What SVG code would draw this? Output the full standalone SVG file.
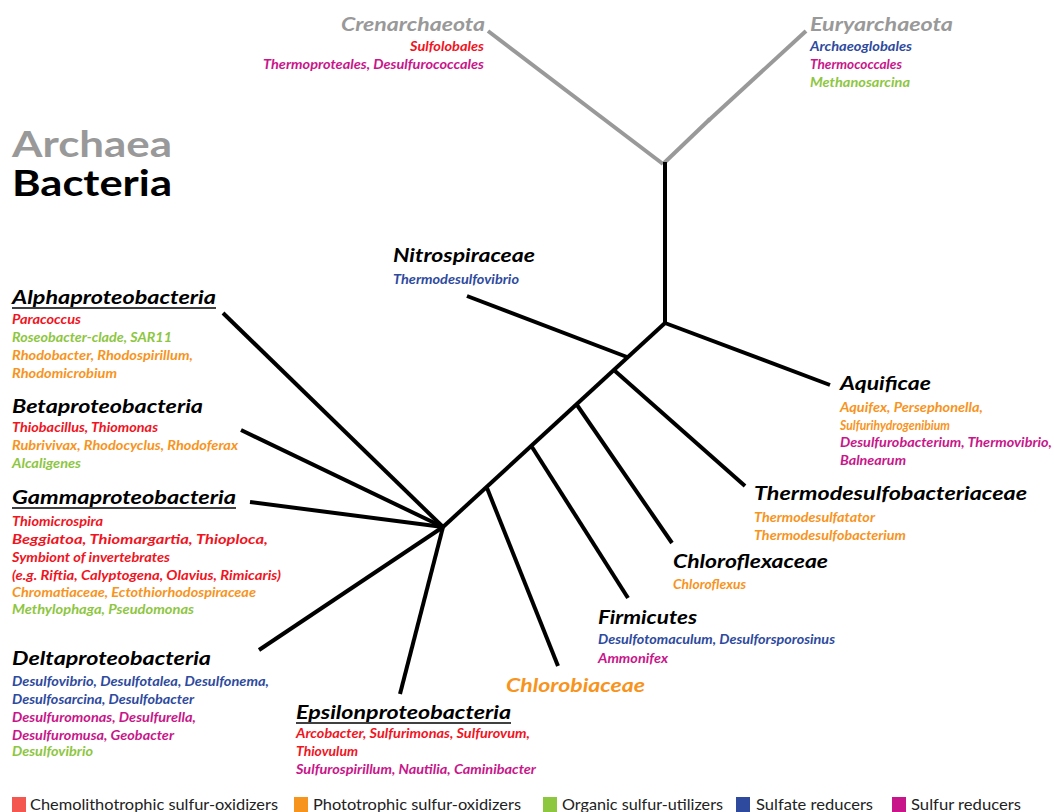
<svg xmlns="http://www.w3.org/2000/svg" width="1054" height="812" viewBox="0 0 1054 812">
<style>
text{font-family:Lato,"Open Sans","Liberation Sans",sans-serif;font-weight:bold;font-style:italic}
.h{font-size:19px;fill:#000}
.ha{font-size:19px;fill:#999}
.s{font-size:13px}
.r{fill:#f0141e}.o{fill:#f7941d}.g{fill:#8dc63f}.b{fill:#2e4a9e}.m{fill:#c8168a}
.big{font-style:normal;font-size:36px}
.lg{font-style:normal;font-weight:normal;font-size:16px;fill:#222}
.e{text-anchor:end}
.u{stroke:#000;stroke-width:1.6}
#connectors line{stroke:#000;stroke-width:4;stroke-linecap:butt}
#connectors .a{stroke:#999}
</style>
<rect width="1054" height="812" fill="#fff"/>
<g id="connectors">
<line class="a" x1="488" y1="31" x2="663" y2="164"/>
<line class="a" x1="663" y1="164" x2="710" y2="119"/>
<line class="a" x1="708" y1="121" x2="806" y2="31"/>
<line x1="665" y1="162" x2="665" y2="325"/>
<line x1="665" y1="323" x2="830" y2="385"/>
<line x1="665" y1="323" x2="443" y2="527"/>
<line x1="627" y1="357" x2="467" y2="296"/>
<line x1="615" y1="371" x2="745" y2="486"/>
<line x1="577" y1="405" x2="672" y2="543"/>
<line x1="532" y1="447" x2="628" y2="598"/>
<line x1="487" y1="488" x2="558" y2="666"/>
<line x1="443" y1="527" x2="223" y2="313"/>
<line x1="443" y1="527" x2="241" y2="430"/>
<line x1="443" y1="527" x2="250" y2="502"/>
<line x1="443" y1="527" x2="259" y2="650"/>
<line x1="443" y1="527" x2="400" y2="694"/>
</g>
<g id="domains">
<text class="big" x="12" y="157" fill="#999" textLength="160" lengthAdjust="spacingAndGlyphs">Archaea</text>
<text class="big" x="12" y="196" fill="#000" textLength="160" lengthAdjust="spacingAndGlyphs">Bacteria</text>
</g>
<g id="crenarchaeota">
<text class="ha e" x="485" y="31" textLength="144" lengthAdjust="spacingAndGlyphs">Crenarchaeota</text>
<text class="s r e" x="484" y="51" textLength="74" lengthAdjust="spacingAndGlyphs">Sulfolobales</text>
<text class="s m e" x="484" y="69" textLength="221" lengthAdjust="spacingAndGlyphs">Thermoproteales, Desulfurococcales</text>
</g>
<g id="euryarchaeota">
<text class="ha" x="810" y="31" textLength="143" lengthAdjust="spacingAndGlyphs">Euryarchaeota</text>
<text class="s b" x="810" y="51" textLength="102" lengthAdjust="spacingAndGlyphs">Archaeoglobales</text>
<text class="s m" x="810" y="69" textLength="92" lengthAdjust="spacingAndGlyphs">Thermococcales</text>
<text class="s g" x="810" y="87" textLength="100" lengthAdjust="spacingAndGlyphs">Methanosarcina</text>
</g>
<g id="nitrospiraceae">
<text class="h" x="393" y="262" textLength="142" lengthAdjust="spacingAndGlyphs">Nitrospiraceae</text>
<text class="s b" x="393" y="284" textLength="126" lengthAdjust="spacingAndGlyphs">Thermodesulfovibrio</text>
</g>
<g id="alphaproteobacteria">
<text class="h" x="12" y="304" textLength="204" lengthAdjust="spacingAndGlyphs">Alphaproteobacteria</text>
<line class="u" x1="12" y1="308" x2="216" y2="308"/>
<text class="s r" x="12" y="324" textLength="69" lengthAdjust="spacingAndGlyphs">Paracoccus</text>
<text class="s g" x="12" y="342" textLength="160" lengthAdjust="spacingAndGlyphs">Roseobacter-clade, SAR11</text>
<text class="s o" x="12" y="360" textLength="181" lengthAdjust="spacingAndGlyphs">Rhodobacter, Rhodospirillum,</text>
<text class="s o" x="12" y="378" textLength="105" lengthAdjust="spacingAndGlyphs">Rhodomicrobium</text>
</g>
<g id="betaproteobacteria">
<text class="h" x="12" y="413" textLength="191" lengthAdjust="spacingAndGlyphs">Betaproteobacteria</text>
<text class="s r" x="12" y="432" textLength="146" lengthAdjust="spacingAndGlyphs">Thiobacillus, Thiomonas</text>
<text class="s o" x="12" y="450" textLength="226" lengthAdjust="spacingAndGlyphs">Rubrivivax, Rhodocyclus, Rhodoferax</text>
<text class="s g" x="12" y="468" textLength="69" lengthAdjust="spacingAndGlyphs">Alcaligenes</text>
</g>
<g id="gammaproteobacteria">
<text class="h" x="12" y="504" textLength="224" lengthAdjust="spacingAndGlyphs">Gammaproteobacteria</text>
<line class="u" x1="12" y1="508" x2="236" y2="508"/>
<text class="s r" x="12" y="526" textLength="91" lengthAdjust="spacingAndGlyphs">Thiomicrospira</text>
<text class="s r" x="12" y="544" textLength="256" lengthAdjust="spacingAndGlyphs">Beggiatoa, Thiomargartia, Thioploca,</text>
<text class="s r" x="12" y="562" textLength="158" lengthAdjust="spacingAndGlyphs">Symbiont of invertebrates</text>
<text class="s r" x="12" y="580" textLength="269" lengthAdjust="spacingAndGlyphs">(e.g. Riftia, Calyptogena, Olavius, Rimicaris)</text>
<text class="s o" x="12" y="597" textLength="244" lengthAdjust="spacingAndGlyphs">Chromatiaceae, Ectothiorhodospiraceae</text>
<text class="s g" x="12" y="614" textLength="182" lengthAdjust="spacingAndGlyphs">Methylophaga, Pseudomonas</text>
</g>
<g id="deltaproteobacteria">
<text class="h" x="12" y="665" textLength="199" lengthAdjust="spacingAndGlyphs">Deltaproteobacteria</text>
<text class="s b" x="12" y="686" textLength="257" lengthAdjust="spacingAndGlyphs">Desulfovibrio, Desulfotalea, Desulfonema,</text>
<text class="s b" x="12" y="704" textLength="182" lengthAdjust="spacingAndGlyphs">Desulfosarcina, Desulfobacter</text>
<text class="s m" x="12" y="722" textLength="184" lengthAdjust="spacingAndGlyphs">Desulfuromonas, Desulfurella,</text>
<text class="s m" x="12" y="740" textLength="162" lengthAdjust="spacingAndGlyphs">Desulfuromusa, Geobacter</text>
<text class="s g" x="12" y="756" textLength="81" lengthAdjust="spacingAndGlyphs">Desulfovibrio</text>
</g>
<g id="epsilonproteobacteria">
<text class="h" x="296" y="719" textLength="215" lengthAdjust="spacingAndGlyphs">Epsilonproteobacteria</text>
<line class="u" x1="296" y1="723" x2="511" y2="723"/>
<text class="s r" x="296" y="738" textLength="234" lengthAdjust="spacingAndGlyphs">Arcobacter, Sulfurimonas, Sulfurovum,</text>
<text class="s r" x="296" y="756" textLength="62" lengthAdjust="spacingAndGlyphs">Thiovulum</text>
<text class="s m" x="296" y="774" textLength="240" lengthAdjust="spacingAndGlyphs">Sulfurospirillum, Nautilia, Caminibacter</text>
</g>
<g id="chlorobiaceae">
<text class="h" x="506" y="692" style="fill:#f7941d" textLength="139" lengthAdjust="spacingAndGlyphs">Chlorobiaceae</text>
</g>
<g id="firmicutes">
<text class="h" x="598" y="624" textLength="99" lengthAdjust="spacingAndGlyphs">Firmicutes</text>
<text class="s b" x="598" y="644" textLength="237" lengthAdjust="spacingAndGlyphs">Desulfotomaculum, Desulforsporosinus</text>
<text class="s m" x="598" y="663" textLength="70" lengthAdjust="spacingAndGlyphs">Ammonifex</text>
</g>
<g id="chloroflexaceae">
<text class="h" x="673" y="568" textLength="155" lengthAdjust="spacingAndGlyphs">Chloroflexaceae</text>
<text class="s o" x="673" y="589" textLength="73" lengthAdjust="spacingAndGlyphs">Chloroflexus</text>
</g>
<g id="thermodesulfobacteriaceae">
<text class="h" x="754" y="500" textLength="273" lengthAdjust="spacingAndGlyphs">Thermodesulfobacteriaceae</text>
<text class="s o" x="754" y="522" textLength="121" lengthAdjust="spacingAndGlyphs">Thermodesulfatator</text>
<text class="s o" x="754" y="540" textLength="152" lengthAdjust="spacingAndGlyphs">Thermodesulfobacterium</text>
</g>
<g id="aquificae">
<text class="h" x="840" y="390" textLength="91" lengthAdjust="spacingAndGlyphs">Aquificae</text>
<text class="s o" x="840" y="412" textLength="143" lengthAdjust="spacingAndGlyphs">Aquifex, Persephonella,</text>
<text class="s o" x="840" y="430" textLength="110" lengthAdjust="spacingAndGlyphs">Sulfurihydrogenibium</text>
<text class="s m" x="840" y="447" textLength="212" lengthAdjust="spacingAndGlyphs">Desulfurobacterium, Thermovibrio,</text>
<text class="s m" x="840" y="465" textLength="66" lengthAdjust="spacingAndGlyphs">Balnearum</text>
</g>
<g id="legend">
<rect x="12" y="797" width="14" height="15" fill="#f4574f"/>
<text class="lg" x="30" y="810" textLength="248" lengthAdjust="spacingAndGlyphs">Chemolithotrophic sulfur-oxidizers</text>
<rect x="294" y="797" width="14" height="15" fill="#f7941d"/>
<text class="lg" x="313" y="810" textLength="208" lengthAdjust="spacingAndGlyphs">Phototrophic sulfur-oxidizers</text>
<rect x="543" y="797" width="14" height="15" fill="#8dc63f"/>
<text class="lg" x="562" y="810" textLength="161" lengthAdjust="spacingAndGlyphs">Organic sulfur-utilizers</text>
<rect x="736" y="797" width="14" height="15" fill="#2e4a9e"/>
<text class="lg" x="756" y="810" textLength="117" lengthAdjust="spacingAndGlyphs">Sulfate reducers</text>
<rect x="892" y="797" width="14" height="15" fill="#c8168a"/>
<text class="lg" x="911" y="810" textLength="110" lengthAdjust="spacingAndGlyphs">Sulfur reducers</text>
</g>
</svg>
